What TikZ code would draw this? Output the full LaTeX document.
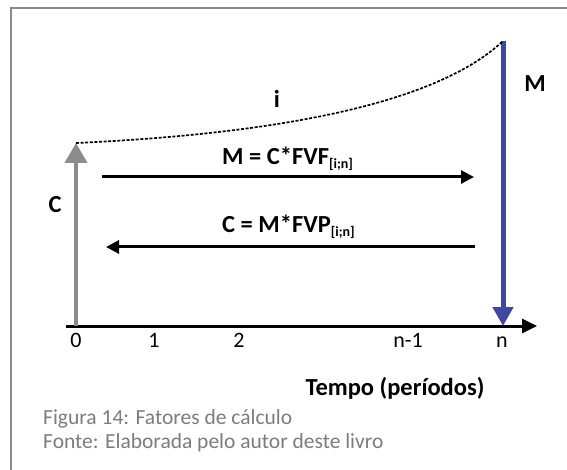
\documentclass[tikz,border=0pt]{standalone}
\usepackage{fontspec}
\setmainfont{Carlito}
\usetikzlibrary{arrows.meta,positioning,calc}

\definecolor{framegray}{HTML}{8A8A8A}
\definecolor{capgray}{HTML}{7C7C7C}
\definecolor{cgray}{HTML}{8C8C8C}
\definecolor{mblue}{HTML}{3F479F}

\tikzset{
  biglbl/.style={font=\fontsize{24.5}{27}\selectfont\bfseries,inner sep=0pt,anchor=base},
  ticklbl/.style={font=\fontsize{22}{24}\selectfont,inner sep=0pt,anchor=base},
  caplbl/.style={font=\fontsize{21.5}{24}\selectfont,text=capgray,inner sep=0pt,anchor=base west},
  flow/.style={line width=3pt,-{Triangle[length=13pt,width=13pt]}}
}
\newcommand{\sbr}[1]{\textsubscript{\fontsize{14}{15}\selectfont #1}}

\begin{document}
\begin{tikzpicture}[x=1pt,y=-1pt]
\useasboundingbox (0,0) rectangle (567,470);
% frame (left and top only)
\draw[framegray,line width=2.5pt] (11,470) |- (567,8);

% time line
\coordinate (ax0) at (66,326);
\coordinate (ax1) at (537,326);
\coordinate (t0) at (76,326);
\coordinate (tn) at (503,326);
\coordinate (ctop) at (76,143);
\coordinate (mtop) at (503,41);
\draw[line width=3pt,-{Triangle[length=15pt,width=14pt]}] (ax0) -- (ax1);

% C and M
\draw[cgray,line width=4pt,-{Triangle[length=20pt,width=22pt]}] (t0) -- (ctop);
\draw[mblue,line width=5pt,-{Triangle[length=19pt,width=20pt]}] (mtop) -- (tn);

% interest curve
\draw[line width=1.7pt,dash pattern=on 3pt off 1.6pt] (ctop) .. controls (250,135) and (430,110) .. (mtop);

\node[biglbl] (i) at (277,108) {i};
\node[biglbl] (mlbl) at (535,92) {M};
\node[biglbl] (clbl) at (55,213) {C};

% factors
\coordinate (fa) at (102,177);
\coordinate (fb) at (474,177);
\coordinate (pa) at (475,247);
\coordinate (pb) at (106,247);
\draw[flow] (fa) -- (fb);
\draw[flow] (pa) -- (pb);
\node[biglbl,anchor=base west] (fvf) at (222,165) {M = C*FVF\sbr{[i;n]}};
\node[biglbl,anchor=base west] (fvp) at (222,233) {C = M*FVP\sbr{[i;n]}};

% periods
\node[ticklbl] (p0) at (76,347) {0};
\node[ticklbl] (p1) at (154,347) {1};
\node[ticklbl] (p2) at (239,347) {2};
\node[ticklbl] (pn1) at (408,347) {n-1};
\node[ticklbl] (pn) at (502,347) {n};
\node[biglbl] (tempo) at (395,395) {Tempo (períodos)};

% caption
\node[caplbl] (fig) at (43,424) {Figura 14: Fatores de cálculo};
\node[caplbl] (fonte) at (43,448) {Fonte: Elaborada pelo autor deste livro};
\end{tikzpicture}
\end{document}
